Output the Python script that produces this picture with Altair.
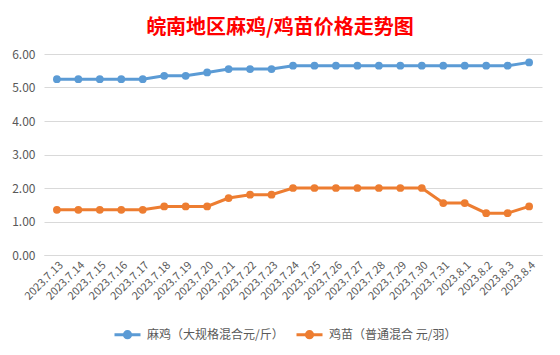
import altair as alt
import pandas as pd

dates = ["2023.7.13", "2023.7.14", "2023.7.15", "2023.7.16", "2023.7.17", "2023.7.18",
         "2023.7.19", "2023.7.20", "2023.7.21", "2023.7.22", "2023.7.23", "2023.7.24",
         "2023.7.25", "2023.7.26", "2023.7.27", "2023.7.28", "2023.7.29", "2023.7.30",
         "2023.7.31", "2023.8.1", "2023.8.2", "2023.8.3", "2023.8.4"]
maji = [5.25, 5.25, 5.25, 5.25, 5.25, 5.35, 5.35, 5.45, 5.55, 5.55, 5.55, 5.65,
        5.65, 5.65, 5.65, 5.65, 5.65, 5.65, 5.65, 5.65, 5.65, 5.65, 5.75]
jimiao = [1.35, 1.35, 1.35, 1.35, 1.35, 1.45, 1.45, 1.45, 1.70, 1.80, 1.80, 2.00,
          2.00, 2.00, 2.00, 2.00, 2.00, 2.00, 1.55, 1.55, 1.25, 1.25, 1.45]
series_names = ["麻鸡（大规格混合元/斤）", "鸡苗（普通混合 元/羽）"]
colors = ["#5B9BD5", "#ED7D31"]
y_ticks = [0, 1, 2, 3, 4, 5, 6]
title_text = "皖南地区麻鸡/鸡苗价格走势图"

rows = []
for i, d in enumerate(dates):
    rows.append({"date": d, "series": series_names[0], "value": maji[i], "order": i})
    rows.append({"date": d, "series": series_names[1], "value": jimiao[i], "order": i})
df = pd.DataFrame(rows)

font = "Noto Sans CJK SC"

x = alt.X("date:N", sort=dates, scale=alt.Scale(padding=0.6),
          axis=alt.Axis(title=None, labelAngle=-45, ticks=False, domainColor="#D9D9D9",
                        labelColor="#595959", labelFontSize=11, labelPadding=4, grid=False,
                        labelFont=font))
y = alt.Y("value:Q", scale=alt.Scale(domain=[0, 6]),
          axis=alt.Axis(title=None, values=y_ticks, format=".2f", ticks=False, domain=False,
                        gridColor="#D9D9D9", labelColor="#595959", labelFontSize=12,
                        labelPadding=9, labelFont=font))

legend = alt.Legend(title=None, orient="none", direction="horizontal", legendX=69, legendY=266,
                    symbolType="M-1,0L1,0M0.24,0A0.24,0.24 0 1,1 -0.24,0A0.24,0.24 0 1,1 0.24,0Z",
                    symbolSize=676, symbolStrokeWidth=3, labelFontSize=12, labelColor="#595959",
                    labelFont=font, columnPadding=6, labelOffset=5)

scale = alt.Scale(domain=series_names, range=colors)

lines = alt.Chart(df).mark_line(strokeWidth=3).encode(
    x=x, y=y,
    stroke=alt.Stroke("series:N", scale=scale, sort=series_names, legend=legend),
    order="order:Q",
)
points = alt.Chart(df).mark_circle(size=60, opacity=1).encode(
    x=x, y=y,
    fill=alt.Fill("series:N", scale=scale, sort=series_names, legend=legend),
)

chart = alt.layer(lines, points).properties(
    width=498, height=201,
    padding={"left": 36, "top": 46, "right": 10, "bottom": 90},
    autosize=alt.AutoSizeParams(type="none"),
    background="white",
    title=alt.TitleParams(title_text, font=font, fontSize=20, fontWeight="bold",
                          color="#FF0000", anchor="middle", dx=-13, offset=10),
).configure_view(strokeWidth=0)

chart.save("out.html", embed_options={"renderer": "svg", "actions": False})
